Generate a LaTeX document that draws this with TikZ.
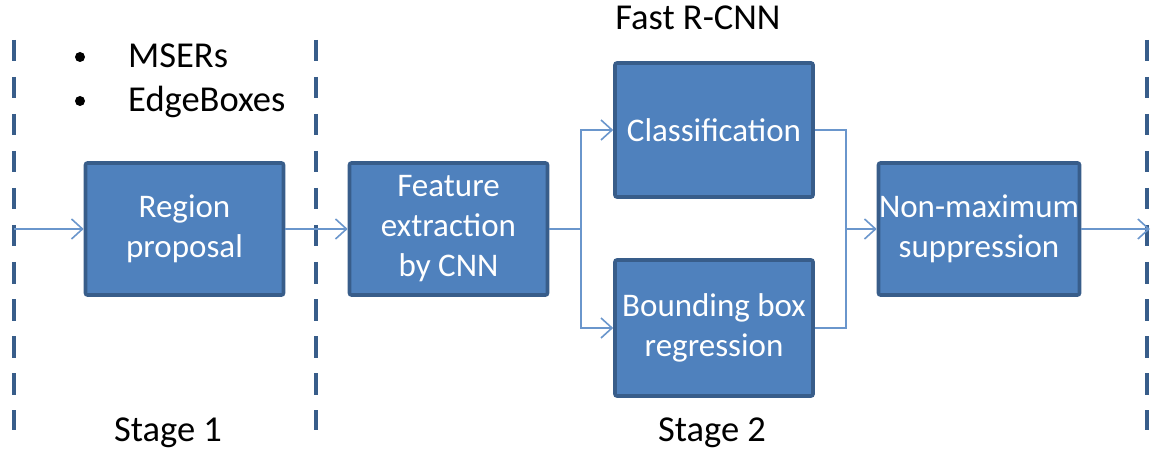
\documentclass[tikz,border=0pt]{standalone}
\usepackage{fontspec}
\setmainfont{Carlito}
\usetikzlibrary{arrows.meta}
\definecolor{boxfill}{HTML}{4F81BD}
\definecolor{boxedge}{HTML}{385D8A}
\definecolor{linkblue}{HTML}{6A96CC}
\tikzset{
  stagebox/.style={draw=boxedge, fill=boxfill, line width=3.6bp, rounded corners=2bp,
    minimum width=198bp, minimum height=132bp, text=white, align=center, inner sep=0pt,
    font=\fontsize{33bp}{40bp}\selectfont},
  link/.style={draw=linkblue, line width=1.6bp},
  flow/.style={link, -{Straight Barb[length=11bp,width=20bp,line width=1.6bp]}},
  divider/.style={draw=boxedge, line width=4.2bp, dash pattern=on 21.5bp off 15.5bp},
  caption/.style={font=\fontsize{36.5bp}{44bp}\selectfont, inner sep=0pt},
  bulletdot/.style={circle, fill=black, inner sep=0pt, minimum size=10bp}
}
\begin{document}
\begin{tikzpicture}[x=1bp, y=-1bp]
  \useasboundingbox (0,0) rectangle (1152,452);

  % stage dividers
  \coordinate (d1t) at (14,40);   \coordinate (d1b) at (14,430);
  \coordinate (d2t) at (316,40);  \coordinate (d2b) at (316,430);
  \coordinate (d3t) at (1147,40); \coordinate (d3b) at (1147,430);
  \draw[divider] (d1t) -- (d1b);
  \draw[divider] (d2t) -- (d2b);
  \draw[divider] (d3t) -- (d3b);

  % processing blocks
  \node[stagebox] (rp)  at (184.5,229) {Region\\proposal};
  \node[stagebox] (fe)  at (448.5,229) {Feature\\extraction\\by CNN};
  \node[stagebox, minimum height=134bp] (cls) at (714,130) {Classification};
  \node[stagebox, minimum height=136bp] (bbr) at (714,328) {Bounding box\\regression};
  \node[stagebox, minimum width=201bp] (nms) at (979,229) {Non-maximum\\suppression};

  % captions
  \node[caption] (fast) at (698,18) {Fast R-CNN};
  \node[caption] (s1) at (168,433) {Stage 1};
  \node[caption] (s2) at (712,433) {Stage 2};
  \node[bulletdot] (b1) at (80,57) {};
  \node[caption, anchor=base west] (m1) at (128,68) {MSERs};
  \node[bulletdot] (b2) at (80,101) {};
  \node[caption, anchor=base west] (m2) at (128,112) {EdgeBoxes};

  % connectors
  \coordinate (in)    at (14,229);
  \coordinate (out)   at (1150,229);
  \coordinate (split) at (581,229);
  \coordinate (merge) at (846,229);

  \draw[flow] (in) -- (rp.west);
  \draw[flow] (rp.east) -- (fe.west);
  \draw[link] (fe.east) -- (split);
  \draw[flow] (split) |- (cls.west);
  \draw[flow] (split) |- (bbr.west);
  \draw[link] (cls.east) -| (merge);
  \draw[link] (bbr.east) -| (merge);
  \draw[flow] (merge) -- (nms.west);
  \draw[flow] (nms.east) -- (out);
\end{tikzpicture}
\end{document}
